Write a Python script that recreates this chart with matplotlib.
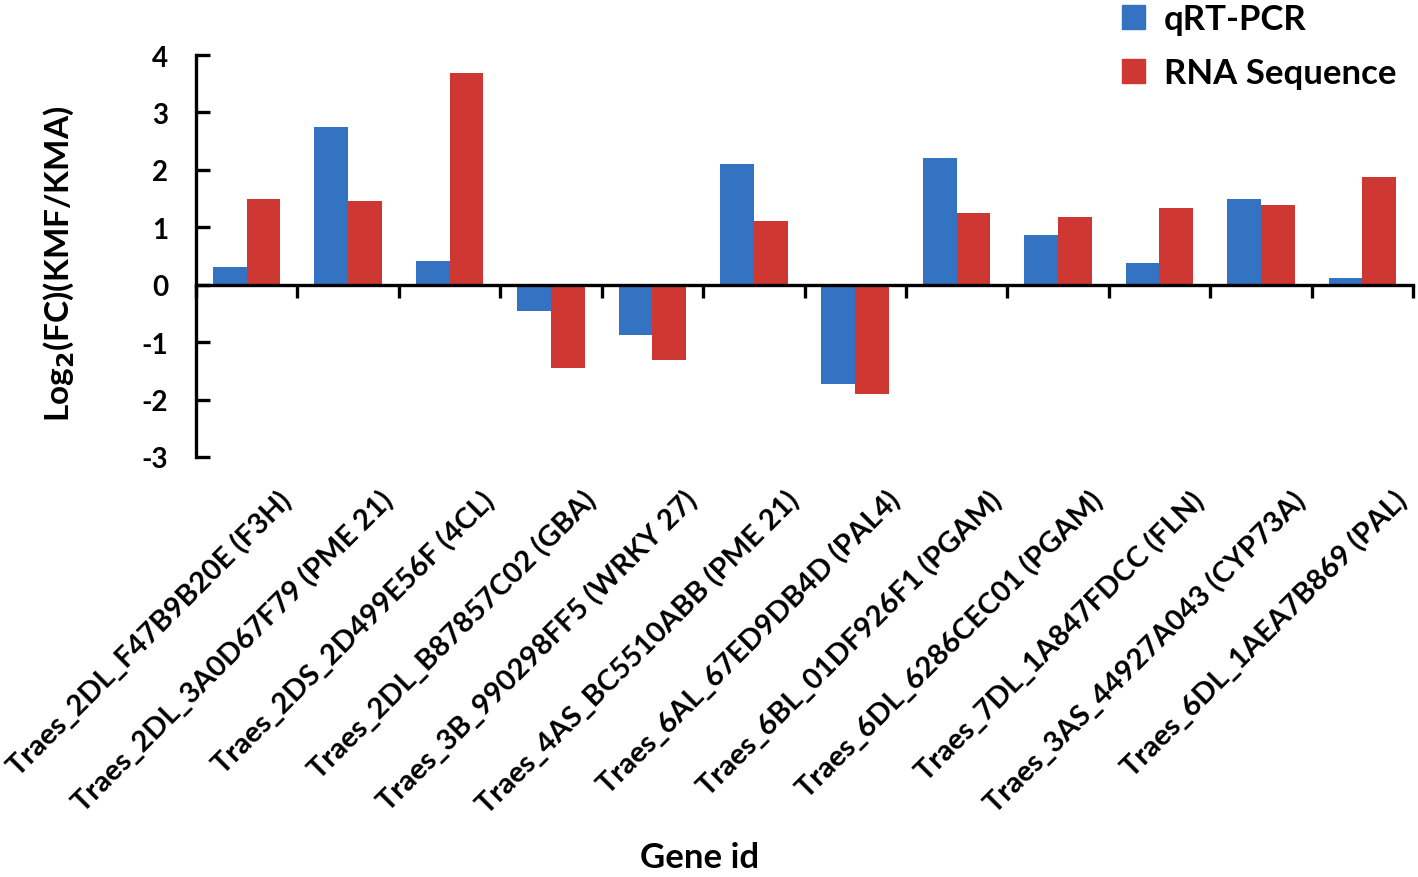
import numpy as np
import matplotlib
matplotlib.use("Agg")
import matplotlib.pyplot as plt
import matplotlib.transforms as mtransforms
from matplotlib.patches import Patch

# Data
genes = [
    "Traes_2DL_F47B9B20E (F3H)",
    "Traes_2DL_3A0D67F79 (PME 21)",
    "Traes_2DS_2D499E56F (4CL)",
    "Traes_2DL_B87857C02 (GBA)",
    "Traes_3B_990298FF5 (WRKY 27)",
    "Traes_4AS_BC5510ABB (PME 21)",
    "Traes_6AL_67ED9DB4D (PAL4)",
    "Traes_6BL_01DF926F1 (PGAM)",
    "Traes_6DL_6286CEC01 (PGAM)",
    "Traes_7DL_1A847FDCC (FLN)",
    "Traes_3AS_44927A043 (CYP73A)",
    "Traes_6DL_1AEA7B869 (PAL)",
]
qrt_pcr = [0.30, 2.74, 0.41, -0.46, -0.87, 2.10, -1.73, 2.21, 0.86, 0.37, 1.49, 0.12]
rna_seq = [1.50, 1.46, 3.69, -1.45, -1.31, 1.11, -1.91, 1.25, 1.18, 1.33, 1.39, 1.88]
yticks = [-3, -2, -1, 0, 1, 2, 3, 4]

plt.rcParams['font.family'] = ['Lato', 'DejaVu Sans']
plt.rcParams['font.weight'] = 'bold'

blue = "#3473C2"
red = "#CF3733"

fig = plt.figure(figsize=(14.18, 8.78), dpi=100)
ax = fig.add_axes([0.1382, 0.4784, 0.8583, 0.4578])

x = np.arange(len(genes))
w = 1 / 3
ax.bar(x - w / 2, qrt_pcr, width=w, color=blue, label="qRT-PCR")
ax.bar(x + w / 2, rna_seq, width=w, color=red, label="RNA Sequence")

ax.set_xlim(-0.5, len(genes) - 0.5)
ax.set_ylim(-3, 4)

# spines: left axis and x axis at zero
for s in ["top", "right"]:
    ax.spines[s].set_visible(False)
ax.spines["bottom"].set_position(("data", 0))
ax.spines["left"].set_linewidth(2.4)
ax.spines["bottom"].set_linewidth(2.4)

ax.set_xticks(np.arange(len(genes) + 1) - 0.5)
ax.set_xticklabels([])
ax.tick_params(axis="x", direction="out", length=9, width=2.4)
ax.set_yticks(yticks)
ax.set_yticklabels([str(t) for t in yticks], fontsize=20, fontweight="bold")
ax.tick_params(axis="y", direction="in", length=10, width=2.4, pad=20)

# rotated gene labels below the plot
offset = mtransforms.ScaledTranslation(29.5 / 72, -28 / 72, fig.dpi_scale_trans)
trans = mtransforms.blended_transform_factory(ax.transData, ax.transAxes) + offset
for i, g in enumerate(genes):
    ax.text(i, 0, g, transform=trans, rotation=45, rotation_mode="anchor",
            ha="right", va="center", fontsize=21, fontweight="bold")

fig.text(59 / 1418, 1 - 264 / 878, r"Log$_\mathbf{2}$(FC)(KMF/KMA)", rotation=90,
         ha="center", va="center", fontsize=24, fontweight="bold")
fig.text(700 / 1418, 1 - 858 / 878, "Gene id", ha="center", va="center",
         fontsize=25, fontweight="bold")

handles = [Patch(color=blue), Patch(color=red)]
fig.legend(handles, ["qRT-PCR", "RNA Sequence"], loc="upper left",
           bbox_to_anchor=(1122 / 1418, 1 - 4 / 878), frameon=False,
           borderpad=0, borderaxespad=0,
           handlelength=0.66, handleheight=0.66, handletextpad=0.55, labelspacing=0.64,
           prop={'weight': 'bold', 'size': 25})

fig.savefig("out.png", dpi=100)
